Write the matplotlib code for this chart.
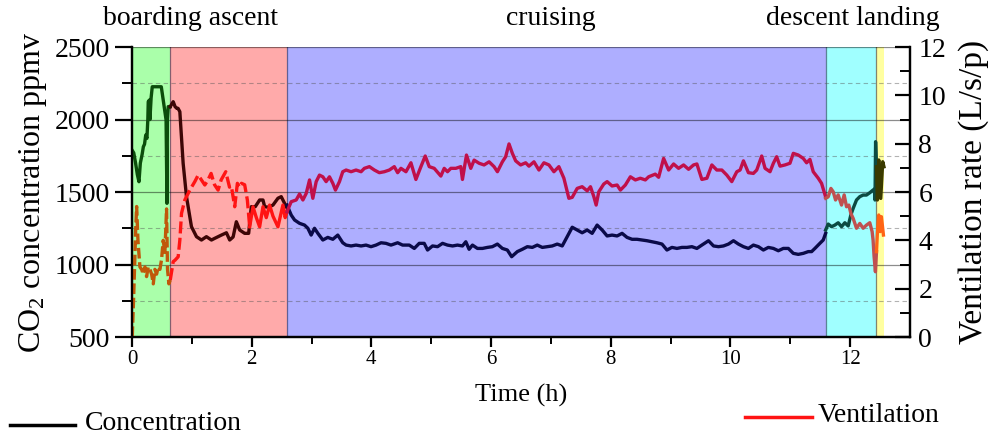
import matplotlib
matplotlib.use("Agg")
import matplotlib.pyplot as plt
from matplotlib.lines import Line2D
import numpy as np

plt.rcParams['font.family'] = ['Liberation Serif', 'DejaVu Serif']
plt.rcParams['mathtext.fontset'] = 'custom'
plt.rcParams['mathtext.rm'] = 'Liberation Serif'
plt.rcParams['mathtext.it'] = 'Liberation Serif:italic'

# ---------------- data ----------------
phase_names = ["boarding", "ascent", "cruising", "descent", "landing"]
phase_bounds = [0.0, 0.64, 2.59, 11.59, 12.44, 12.57]
phase_fill = ["#aaffaa", "#ffaaaa", "#aeaeff", "#a0ffff", "#ffffa0"]
conc_colors = ["#0b4d0b", "#3d0606", "#0a0a48", "#0c4a42", "#3a3a00"]
vent_colors = ["#c0580a", "#ff1414", "#c0104a", "#c05050", "#ff6414"]

# CO2 concentration (ppmv)
t_conc_boarding = [0.0, 0.03, 0.06, 0.09, 0.117, 0.14, 0.17, 0.19, 0.21, 0.23, 0.25, 0.265, 0.272,
                   0.29, 0.30, 0.32, 0.339, 0.49, 0.53, 0.57, 0.585, 0.592, 0.606, 0.64]
c_boarding = [1790, 1770, 1700, 1620, 1571, 1700, 1760, 1812, 1830, 1893, 1870, 2000, 2123,
              2134, 2000, 2150, 2226, 2226, 2112, 1997, 1422, 1997, 2089, 2089]

t_conc_ascent = [0.64, 0.689, 0.72, 0.75, 0.77, 0.80, 0.855, 0.911, 0.994, 1.078, 1.161, 1.244,
                 1.328, 1.38, 1.494, 1.578, 1.633, 1.69, 1.744, 1.80, 1.883, 1.95, 1.994, 2.06,
                 2.133, 2.189, 2.217, 2.28, 2.356, 2.439, 2.494, 2.55, 2.59]
c_ascent = [2089, 2123, 2089, 2077, 2077, 2054, 1698, 1468, 1261, 1192, 1169, 1192,
            1169, 1180, 1203, 1219, 1169, 1190, 1295, 1238, 1215, 1215, 1399, 1399,
            1445, 1445, 1399, 1395, 1410, 1457, 1468, 1422, 1390]

t_conc_cruising = [2.59, 2.661, 2.717, 2.80, 2.883, 2.939, 2.994, 3.05, 3.106, 3.189, 3.272, 3.356,
                   3.439, 3.522, 3.578, 3.661, 3.744, 3.828, 3.911, 3.994, 4.078, 4.161, 4.244,
                   4.328, 4.439, 4.522, 4.633, 4.717, 4.80, 4.883, 4.939, 5.022, 5.106, 5.189,
                   5.272, 5.356, 5.439, 5.522, 5.578, 5.633, 5.689, 5.772, 5.856, 5.939, 6.022,
                   6.106, 6.189, 6.272, 6.344, 6.439, 6.522, 6.606, 6.689, 6.772, 6.856, 6.939,
                   7.022, 7.106, 7.189, 7.272, 7.356, 7.439, 7.522, 7.606, 7.689, 7.772, 7.856,
                   7.939, 8.022, 8.106, 8.189, 8.272, 8.356, 8.439, 8.522, 8.606, 8.689, 8.772,
                   8.856, 8.939, 9.022, 9.106, 9.189, 9.272, 9.356, 9.439, 9.522, 9.633, 9.717,
                   9.80, 9.883, 9.967, 10.05, 10.133, 10.217, 10.30, 10.383, 10.467, 10.55,
                   10.633, 10.717, 10.80, 10.883, 10.967, 11.05, 11.133, 11.217, 11.30, 11.356,
                   11.411, 11.494, 11.55, 11.59]
c_cruising = [1410, 1341, 1307, 1284, 1272, 1250, 1203, 1250, 1215, 1169, 1187, 1174,
              1203, 1150, 1134, 1128, 1134, 1128, 1134, 1123, 1134, 1150, 1146,
              1134, 1150, 1134, 1134, 1111, 1146, 1146, 1100, 1128, 1123, 1146,
              1134, 1128, 1134, 1128, 1157, 1105, 1134, 1111, 1111, 1118, 1123,
              1141, 1111, 1100, 1054, 1089, 1105, 1123, 1118, 1134, 1118, 1123,
              1128, 1141, 1128, 1192, 1257, 1238, 1219, 1238, 1215, 1272, 1238,
              1197, 1203, 1197, 1215, 1187, 1174, 1174, 1169, 1164, 1157, 1150,
              1141, 1100, 1118, 1111, 1118, 1118, 1123, 1111, 1134, 1164, 1128,
              1123, 1128, 1141, 1164, 1141, 1123, 1111, 1134, 1123, 1100,
              1118, 1111, 1095, 1111, 1111, 1077, 1070, 1077, 1089, 1089,
              1111, 1146, 1169, 1215]

t_conc_descent = [11.59, 11.633, 11.689, 11.744, 11.80, 11.856, 11.911, 11.967, 12.011, 12.05,
                  12.106, 12.161, 12.217, 12.272, 12.328, 12.383, 12.405, 12.415, 12.425, 12.44]
c_descent = [1238, 1279, 1261, 1272, 1288, 1261, 1288, 1266, 1341, 1387,
             1445, 1468, 1479, 1479, 1495, 1514, 1520, 1445, 1847, 1674]

t_conc_landing = [12.44, 12.455, 12.478, 12.511, 12.544, 12.565]
c_landing = [1674, 1445, 1721, 1456, 1709, 1674]

# Ventilation rate (L/s/p)
t_vent_boarding = [0.005, 0.03, 0.045, 0.06, 0.078, 0.10, 0.133, 0.161, 0.189, 0.217, 0.244, 0.272,
                   0.30, 0.328, 0.356, 0.383, 0.411, 0.439, 0.467, 0.494, 0.522, 0.55, 0.578,
                   0.594, 0.617, 0.64]
v_boarding = [0.0, 1.8, 3.0, 4.3, 5.4, 4.0, 2.9, 2.8, 2.6, 2.9, 2.5, 2.9,
              2.8, 2.6, 2.2, 2.8, 2.6, 2.9, 2.8, 3.2, 4.0, 3.5, 5.3,
              2.8, 2.2, 2.36]

t_vent_ascent = [0.64, 0.689, 0.72, 0.772, 0.80, 0.828, 0.883, 0.967, 1.05, 1.106, 1.161, 1.217,
                 1.27, 1.322, 1.38, 1.439, 1.49, 1.567, 1.63, 1.66, 1.717, 1.761, 1.80, 1.83,
                 1.883, 1.928, 1.967, 2.022, 2.078, 2.133, 2.189, 2.244, 2.30, 2.356, 2.439,
                 2.522, 2.56, 2.59]
v_ascent = [2.36, 3.12, 3.18, 3.32, 4.01, 5.12, 5.67, 6.08, 6.43, 6.70, 6.50, 6.29,
            6.50, 6.77, 6.30, 6.08, 6.50, 6.84, 6.20, 6.25, 5.39, 6.36, 6.20, 6.36,
            6.30, 5.67, 4.56, 5.39, 4.94, 4.56, 5.39, 4.94, 5.46, 5.00, 4.56,
            5.46, 4.94, 5.18]

t_vent_cruising = [2.59, 2.661, 2.744, 2.80, 2.856, 2.911, 2.967, 3.022, 3.078, 3.133, 3.189, 3.244,
                   3.30, 3.356, 3.40, 3.467, 3.522, 3.578, 3.661, 3.744, 3.828, 3.883, 3.967,
                   4.05, 4.133, 4.217, 4.30, 4.383, 4.439, 4.494, 4.578, 4.661, 4.744, 4.828,
                   4.90, 4.967, 5.05, 5.161, 5.217, 5.272, 5.328, 5.411, 5.494, 5.522, 5.589,
                   5.661, 5.717, 5.80, 5.883, 5.967, 6.05, 6.106, 6.189, 6.244, 6.30, 6.356,
                   6.411, 6.494, 6.578, 6.633, 6.717, 6.80, 6.883, 6.967, 7.05, 7.133, 7.217,
                   7.30, 7.356, 7.439, 7.522, 7.606, 7.661, 7.717, 7.756, 7.80, 7.883, 7.939,
                   8.022, 8.106, 8.161, 8.244, 8.328, 8.411, 8.494, 8.578, 8.633, 8.744, 8.80,
                   8.883, 8.967, 9.05, 9.133, 9.217, 9.30, 9.383, 9.439, 9.522, 9.606, 9.689,
                   9.772, 9.856, 9.939, 10.022, 10.106, 10.161, 10.217, 10.30, 10.383, 10.439,
                   10.522, 10.578, 10.661, 10.717, 10.772, 10.828, 10.911, 10.994, 11.05,
                   11.133, 11.217, 11.272, 11.328, 11.383, 11.467, 11.522, 11.59]
v_cruising = [5.18, 5.60, 5.67, 5.92, 5.67, 5.94, 6.50, 5.74, 6.43, 6.70, 6.63, 6.43,
              6.63, 6.36, 6.08, 6.43, 6.84, 6.91, 6.84, 6.91, 6.84, 6.98, 7.05,
              6.91, 6.80, 6.84, 6.91, 7.05, 6.80, 6.98, 6.84, 7.21, 6.52, 7.05,
              7.49, 7.05, 6.98, 6.66, 6.98, 6.84, 6.98, 6.98, 7.05, 6.52, 7.53,
              6.98, 7.32, 7.19, 7.12, 7.25, 7.05, 6.84, 7.25, 7.46, 7.99, 7.60,
              7.29, 7.12, 7.21, 7.07, 7.25, 6.91, 7.21, 7.12, 6.84, 7.05, 6.57,
              5.74, 5.78, 6.15, 6.22, 6.05, 6.22, 5.81, 5.46, 6.01, 6.33, 6.43,
              6.25, 6.29, 6.08, 6.29, 6.63, 6.50, 6.57, 6.50, 6.63, 6.74, 6.61,
              7.39, 6.91, 7.16, 6.98, 7.12, 6.94, 7.12, 7.16, 6.52, 6.57, 7.12,
              6.91, 6.91, 6.70, 6.43, 6.84, 6.91, 7.29, 6.80, 6.77, 6.91,
              7.49, 6.98, 6.84, 7.19, 7.46, 7.07, 7.12, 7.19, 7.60,
              7.53, 7.39, 7.21, 7.35, 6.84, 6.57, 6.36, 5.80]

t_vent_descent = [11.59, 11.633, 11.678, 11.717, 11.756, 11.80, 11.856, 11.90, 11.939, 11.978,
                  12.011, 12.05, 12.106, 12.161, 12.217, 12.272, 12.328, 12.367, 12.383, 12.40,
                  12.422, 12.44]
v_descent = [5.74, 5.80, 6.15, 6.01, 5.67, 5.88, 5.46, 5.88, 5.39, 5.46,
             5.12, 4.91, 4.50, 4.70, 4.50, 4.63, 4.73, 4.36, 4.01, 3.32,
             2.70, 3.53]

t_vent_landing = [12.44, 12.456, 12.478, 12.50, 12.522, 12.556]
v_landing = [3.53, 4.36, 5.05, 4.36, 4.98, 4.22]

x_ticks = [0, 2, 4, 6, 8, 10, 12]
y_ticks_left = [500, 1000, 1500, 2000, 2500]
y_ticks_right = [0, 2, 4, 6, 8, 10, 12]

# ---------------- figure ----------------
fig = plt.figure(figsize=(9.9, 4.37), dpi=100)
ax = fig.add_axes([0.1333, 0.2288, 0.7859, 0.6636])
ax2 = ax.twinx()

for i in range(len(phase_names)):
    ax.axvspan(phase_bounds[i], phase_bounds[i + 1], color=phase_fill[i], lw=0, zorder=0.1)
for b in phase_bounds[1:-1]:
    ax.axvline(b, color="#202040", alpha=0.55, lw=0.9, zorder=0.3)

ax.set_xlim(0, 13)
ax.set_ylim(500, 2500)
ax2.set_ylim(0, 12)

ax.set_yticks(y_ticks_left)
ax.set_yticks([750, 1250, 1750, 2250], minor=True)
ax.set_xticks(x_ticks)
ax.set_xticks([1, 3, 5, 7, 9, 11], minor=True)
ax2.set_yticks(y_ticks_right)
ax2.set_yticks([1, 3, 5, 7, 9, 11], minor=True)

ax.grid(which="major", axis="y", color="#000000", alpha=0.45, lw=0.9, zorder=0.5)
ax.grid(which="minor", axis="y", color="#555555", alpha=0.45, lw=0.8, linestyle=(0, (4, 3)), zorder=0.5)

LW = 2.4
conc_t = [t_conc_boarding, t_conc_ascent, t_conc_cruising, t_conc_descent, t_conc_landing]
conc_v = [c_boarding, c_ascent, c_cruising, c_descent, c_landing]
for i in range(5):
    ax.plot(conc_t[i], conc_v[i], color=conc_colors[i], lw=LW, zorder=3,
            solid_joinstyle="round")

# ventilation
ax2.plot(t_vent_boarding, v_boarding, color=vent_colors[0], lw=LW, dashes=(3.2, 1.1))
split = t_vent_ascent.index(1.967)
ax2.plot(t_vent_ascent[:split + 1], v_ascent[:split + 1], color=vent_colors[1], lw=LW, dashes=(3.6, 1.3))
ax2.plot(t_vent_ascent[split:], v_ascent[split:], color=vent_colors[1], lw=LW, solid_joinstyle="round")
ax2.plot(t_vent_cruising, v_cruising, color=vent_colors[2], lw=LW, solid_joinstyle="round")
ax2.plot(t_vent_descent, v_descent, color=vent_colors[3], lw=LW, solid_joinstyle="round")
ax2.plot(t_vent_landing, v_landing, color=vent_colors[4], lw=LW, solid_joinstyle="round")

# spines & ticks
for a in (ax, ax2):
    a.spines["top"].set_visible(False)
    for s in ("left", "right", "bottom"):
        a.spines[s].set_linewidth(1.6)
ax.tick_params(axis="y", which="major", direction="out", length=12, width=1.6, labelsize=20, pad=4)
ax.tick_params(axis="y", which="minor", direction="out", length=7, width=1.4)
ax.tick_params(axis="x", which="major", direction="out", length=7, width=1.6, labelsize=15, pad=2)
ax.tick_params(axis="x", which="minor", direction="out", length=5, width=1.4)
ax2.tick_params(axis="y", which="major", direction="in", length=11, width=1.6, labelsize=20, pad=6)
ax2.tick_params(axis="y", which="minor", direction="in", length=7, width=1.4)

ax.set_xlabel("Time (h)", fontsize=19, labelpad=11)
ax.set_ylabel("CO$_2$ concentration ppmv", fontsize=23, labelpad=4)
ax2.set_ylabel("Ventilation rate (L/s/p)", fontsize=24, labelpad=9)

# phase labels
fig.text(0.192, 0.958, "boarding ascent", ha="center", va="center", fontsize=20)
fig.text(0.5566, 0.958, "cruising", ha="center", va="center", fontsize=20)
fig.text(0.861, 0.958, "descent landing", ha="center", va="center", fontsize=20)

# legend-like entries
fig.add_artist(Line2D([10 / 990, 75 / 990], [1 - 425 / 437] * 2, color="black", lw=2.5))
fig.text(85 / 990, 1 - 423 / 437, "Concentration", ha="left", va="center", fontsize=20)
fig.add_artist(Line2D([745 / 990, 812 / 990], [1 - 417 / 437] * 2, color="#ff1414", lw=2.5))
fig.text(818 / 990, 1 - 415 / 437, "Ventilation", ha="left", va="center", fontsize=20)

fig.savefig("out.png", dpi=100)
